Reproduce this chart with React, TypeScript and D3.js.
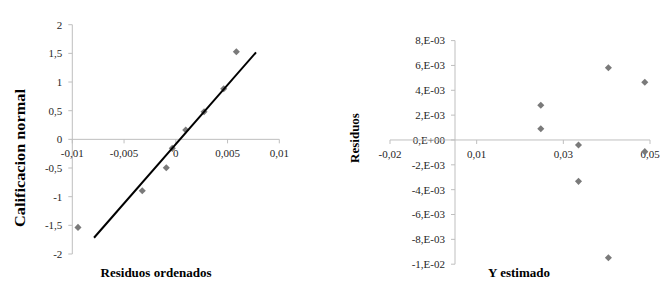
import React from "react";
import * as d3 from "d3";

// ---- Left chart: normal probability plot ----
const orderedResiduals = [-0.00945, -0.00324, -0.00092, -0.00034, 0.00096, 0.00273, 0.00463, 0.00585];
const normalScores = [-1.536, -0.897, -0.495, -0.157, 0.162, 0.482, 0.883, 1.529];
const fitLineX = [-0.0079, 0.00775];
const fitLineY = [-1.717, 1.518];
const leftXTicks = [-0.01, -0.005, 0, 0.005, 0.01];
const leftXLabels = ["-0,01", "-0,005", "0", "0,005", "0,01"];
const leftYTicks = [-2, -1.5, -1, -0.5, 0, 0.5, 1, 1.5, 2];
const leftYLabels = ["-2", "-1,5", "-1", "-0,5", "0", "0,5", "1", "1,5", "2"];

// ---- Right chart: residuals vs estimated Y ----
const yEstimated = [0.0354, 0.0438, 0.0198, 0.0198, 0.0285, 0.0285, 0.0354, 0.0438];
const residuals = [0.00582, 0.00465, 0.00279, 0.00091, -0.0004, -0.00333, -0.00948, -0.00094];
const rightXTicks = [-0.015, 0.005, 0.025, 0.045];
const rightXLabels = ["-0,02", "0,01", "0,03", "0,05"];
const rightYTicks = [-0.01, -0.008, -0.006, -0.004, -0.002, 0, 0.002, 0.004, 0.006, 0.008];
const rightYLabels = ["-1,E-02", "-8,E-03", "-6,E-03", "-4,E-03", "-2,E-03", "0,E+00", "2,E-03", "4,E-03", "6,E-03", "8,E-03"];

const FONT = "Liberation Serif, Times New Roman, DejaVu Serif, serif";
const AXIS = "#bfbfbf";
const TEXT = "#262626";
const MARK = "#7a7a7a";

const diamond = d3.symbol().type(d3.symbolSquare).size(25)() as string;

function Diamond({ x, y }: { x: number; y: number }) {
  return <path d={diamond} transform={`translate(${x},${y}) rotate(45)`} fill={MARK} />;
}

export default function App() {
  // left scales
  const lx = d3.scaleLinear().domain([-0.01, 0.01]).range([72.3, 279.3]);
  const ly = d3.scaleLinear().domain([-2, 2]).range([254, 24.7]);
  // right scales
  const rx = d3.scaleLinear().domain([-0.015, 0.045]).range([390, 650]);
  const ry = d3.scaleLinear().domain([-0.01, 0.008]).range([264.2, 40.6]);

  const line = d3
    .line<number>()
    .x((_, i) => lx(fitLineX[i]))
    .y((d) => ly(d));

  const lAxisX = lx(-0.01);
  const lAxisY = ly(0);
  const rAxisX = rx(0);
  const rAxisY = ry(0);

  const txt = { fontFamily: FONT };

  return (
    <svg
      width={672}
      height={291}
      style={{ position: "absolute", left: 0, top: 0, background: "#fff", fontFamily: FONT }}
    >
      <rect x={0} y={0} width={672} height={291} fill="#fff" />
      {/* LEFT CHART */}
      <g style={txt}>
        <line x1={lAxisX} x2={lAxisX} y1={ly(2)} y2={ly(-2)} stroke={AXIS} />
        {leftYTicks.map((t, i) => (
          <g key={"ly" + i}>
            <line x1={lAxisX - 4} x2={lAxisX} y1={ly(t)} y2={ly(t)} stroke={AXIS} />
            <text x={lAxisX - 10} y={ly(t)} dy="0.35em" textAnchor="end" fontSize={11} fill={TEXT} style={txt}>
              {leftYLabels[i]}
            </text>
          </g>
        ))}
        <line x1={lx(-0.01)} x2={lx(0.01)} y1={lAxisY} y2={lAxisY} stroke={AXIS} />
        {leftXTicks.map((t, i) => (
          <g key={"lx" + i}>
            <line x1={lx(t)} x2={lx(t)} y1={lAxisY} y2={lAxisY + 4} stroke={AXIS} />
            <text x={lx(t)} y={lAxisY + 18} textAnchor="middle" fontSize={11} fill={TEXT} style={txt}>
              {leftXLabels[i]}
            </text>
          </g>
        ))}
        {orderedResiduals.map((r, i) => (
          <Diamond key={"lp" + i} x={lx(r)} y={ly(normalScores[i])} />
        ))}
        <path d={line(fitLineY) as string} stroke="#000" strokeWidth={2} fill="none" />
        <text
          transform={`translate(25,${158}) rotate(-90)`}
          textAnchor="middle"
          fontSize={14}
          fontWeight="bold"
          fill="#000"
          textLength={138}
          lengthAdjust="spacingAndGlyphs"
          style={txt}
        >
          Calificacion normal
        </text>
        <text x={156} y={277} textAnchor="middle" fontSize={13} fontWeight="bold" fill="#000" style={txt}>
          Residuos ordenados
        </text>
      </g>

      {/* RIGHT CHART */}
      <g style={txt}>
        <line x1={rAxisX} x2={rAxisX} y1={ry(0.008)} y2={ry(-0.01)} stroke={AXIS} />
        {rightYTicks.map((t, i) => (
          <g key={"ry" + i}>
            <line x1={rAxisX - 4} x2={rAxisX} y1={ry(t)} y2={ry(t)} stroke={AXIS} />
            <text x={rAxisX - 10} y={ry(t)} dy="0.35em" textAnchor="end" fontSize={11} fill={TEXT} style={txt}>
              {rightYLabels[i]}
            </text>
          </g>
        ))}
        <line x1={rx(-0.015)} x2={rx(0.045)} y1={rAxisY} y2={rAxisY} stroke={AXIS} />
        {rightXTicks.map((t, i) => (
          <g key={"rx" + i}>
            <line x1={rx(t)} x2={rx(t)} y1={rAxisY} y2={rAxisY + 4} stroke={AXIS} />
            <text x={rx(t)} y={rAxisY + 18} textAnchor="middle" fontSize={11} fill={TEXT} style={txt}>
              {rightXLabels[i]}
            </text>
          </g>
        ))}
        {yEstimated.map((v, i) => (
          <Diamond key={"rp" + i} x={rx(v)} y={ry(residuals[i])} />
        ))}
        <text
          transform={`translate(359,${138}) rotate(-90)`}
          textAnchor="middle"
          fontSize={13}
          fontWeight="bold"
          fill="#000"
          style={txt}
        >
          Residuos
        </text>
        <text x={519} y={277} textAnchor="middle" fontSize={13} fontWeight="bold" fill="#000" style={txt}>
          Y estimado
        </text>
      </g>
    </svg>
  );
}
